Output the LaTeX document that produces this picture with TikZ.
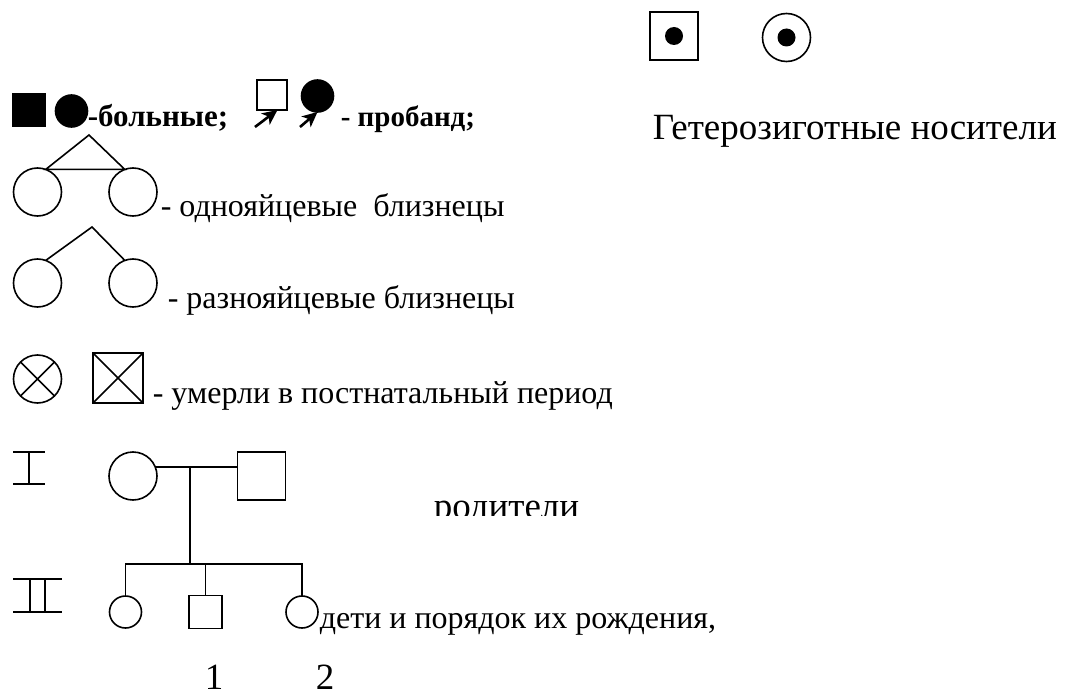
\documentclass[tikz,border=0pt]{standalone}
\usepackage{fontspec}
\setmainfont{Liberation Serif}
\usetikzlibrary{arrows.meta}

\begin{document}
\begin{tikzpicture}[x=1pt,y=-1pt,>=Stealth,line width=1.6pt,
  font=\fontsize{32}{36}\selectfont,
  female/.style={draw,circle,inner sep=0pt,outer sep=0pt,minimum size=#1},
  female/.default=48pt,
  male/.style={draw,rectangle,inner sep=0pt,outer sep=0pt,minimum size=#1},
  male/.default=48pt,
  dot/.style={fill,circle,inner sep=0pt,minimum size=18pt},
  legend/.style={anchor=base west,inner sep=0pt},
  big/.style={font=\fontsize{37}{40}\selectfont},
  probe/.style={line width=2.6pt,-{Stealth[length=15pt,width=14pt,inset=4pt]}}]
  \path[use as bounding box] (0,0) rectangle (1065,695);
  % carriers
  \node[male] (carm) at (674,36) {};
  \node[dot] (carmdot) at (carm) {};
  \node[female] (carf) at (786.5,37.5) {};
  \node[dot] (carfdot) at (carf) {};
  \node[legend,big] (carriers) at (652,140) {Гетерозиготные носители};
  % affected and proband
  \node[male,fill,minimum size=33pt] (affm) at (29,110) {};
  \node[female,fill,minimum size=32pt] (afff) at (71.5,111) {};
  \node[legend,font=\bfseries\fontsize{31}{34}\selectfont] (affected)
    at (87,127) {-больные;};
  \node[male,minimum size=30pt] (probm) at (272,95) {};
  \node[female,fill,minimum size=32pt] (probf) at (317.5,96) {};
  \coordinate (probmtail) at (255,127);
  \coordinate (probftail) at (300,127);
  \draw[probe] (probmtail) -- (probm.-70);
  \draw[probe] (probftail) -- (probf.south);
  \node[legend,font=\bfseries\fontsize{29}{32}\selectfont] (proband)
    at (340,127) {- пробанд;};
  % twins
  \node[female] (mz1) at (37.5,192) {};
  \node[female] (mz2) at (133,192) {};
  \coordinate (mztop) at (89,135);
  \draw (mz1.70) -- (mztop) -- (mz2.110) -- cycle;
  \node[legend] (mztext) at (160,217) {- однояйцевые\ \ близнецы};
  \node[female] (dz1) at (37.5,283) {};
  \node[female] (dz2) at (133,283) {};
  \coordinate (dztop) at (92,227);
  \draw (dz1.70) -- (dztop) -- (dz2.110);
  \node[legend] (dztext) at (167,308) {- разнояйцевые близнецы};
  % deceased
  \node[female] (deadf) at (37.5,379) {};
  \node[male,minimum size=50pt] (deadm) at (118,378) {};
  \draw (deadf.45) -- (deadf.225) (deadf.135) -- (deadf.315);
  \draw (deadm.north west) -- (deadm.south east)
    (deadm.north east) -- (deadm.south west);
  \node[legend] (deadtext) at (152,403) {- умерли в постнатальный период};
  % generations
  \draw (13,452) -- (45,452) (29,452) -- (29,484) (13,484) -- (45,484);
  \draw (13,579) -- (62,579) (13,612) -- (62,612)
    (30,579) -- (30,612) (45,579) -- (45,612);
  \node[female] (mother) at (133,476) {};
  \node[male] (father) at (261.5,476) {};
  \coordinate (mating) at (190,467);
  \coordinate (sibs) at (190,564);
  \draw (mother.22) -- (mother.22 -| father.west);
  \draw (mating) -- (sibs);
  \node[female,minimum size=32pt] (child1) at (125.5,612) {};
  \node[male,minimum size=33pt] (child2) at (205.5,612) {};
  \node[female,minimum size=32pt] (child3) at (302,612) {};
  \draw (child1.north) -- (child1.north |- sibs) -- (child3.north |- sibs)
    -- (child3.north);
  \draw (child2.north) -- (child2.north |- sibs);
  \begin{scope}
    \clip (420,470) rectangle (600,515);
    \node[legend,big] (parents) at (433,518) {родители};
  \end{scope}
  \node[legend] (childtext) at (319,628) {дети и порядок их рождения,};
  \node[big,anchor=base,inner sep=0pt] (order1) at (214,689) {1};
  \node[big,anchor=base,inner sep=0pt] (order2) at (325,689) {2};
\end{tikzpicture}
\end{document}
